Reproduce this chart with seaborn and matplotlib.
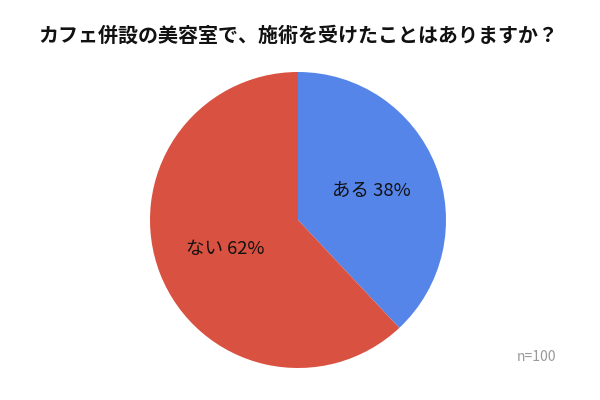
import matplotlib
matplotlib.use('Agg')
import matplotlib.pyplot as plt
import seaborn as sns

title = 'カフェ併設の美容室で、施術を受けたことはありますか？'
categories = ['ある', 'ない']
values = [38, 62]
colors = ['#5585E8', '#D95140']
note = 'n=100'

sns.set_theme(style='white')
plt.rcParams['font.family'] = ['Noto Sans CJK JP', 'DejaVu Sans']

fig = plt.figure(figsize=(6, 4), dpi=100)
fig.text(0.497, 1 - 35 / 400, title, ha='center', va='center', fontsize=14.4, fontweight='bold', color='#111111')

ax = fig.add_axes([150 / 600, 32 / 400, 296 / 600, 296 / 400])
labels = [f'{c} {v}%' for c, v in zip(categories, values)]
ax.pie(values, labels=labels, colors=colors, startangle=90, counterclock=False,
       labeldistance=0.53, textprops={'ha': 'center', 'va': 'center', 'fontsize': 13.3, 'color': '#111111'},
       wedgeprops={'linewidth': 0})
ax.set_xlim(-1, 1)
ax.set_ylim(-1, 1)
ax.set_aspect('equal')

fig.text(537 / 600, 1 - 357 / 400, note, ha='center', va='center', fontsize=10, color='#999999')

fig.savefig('out.png', dpi=100)
